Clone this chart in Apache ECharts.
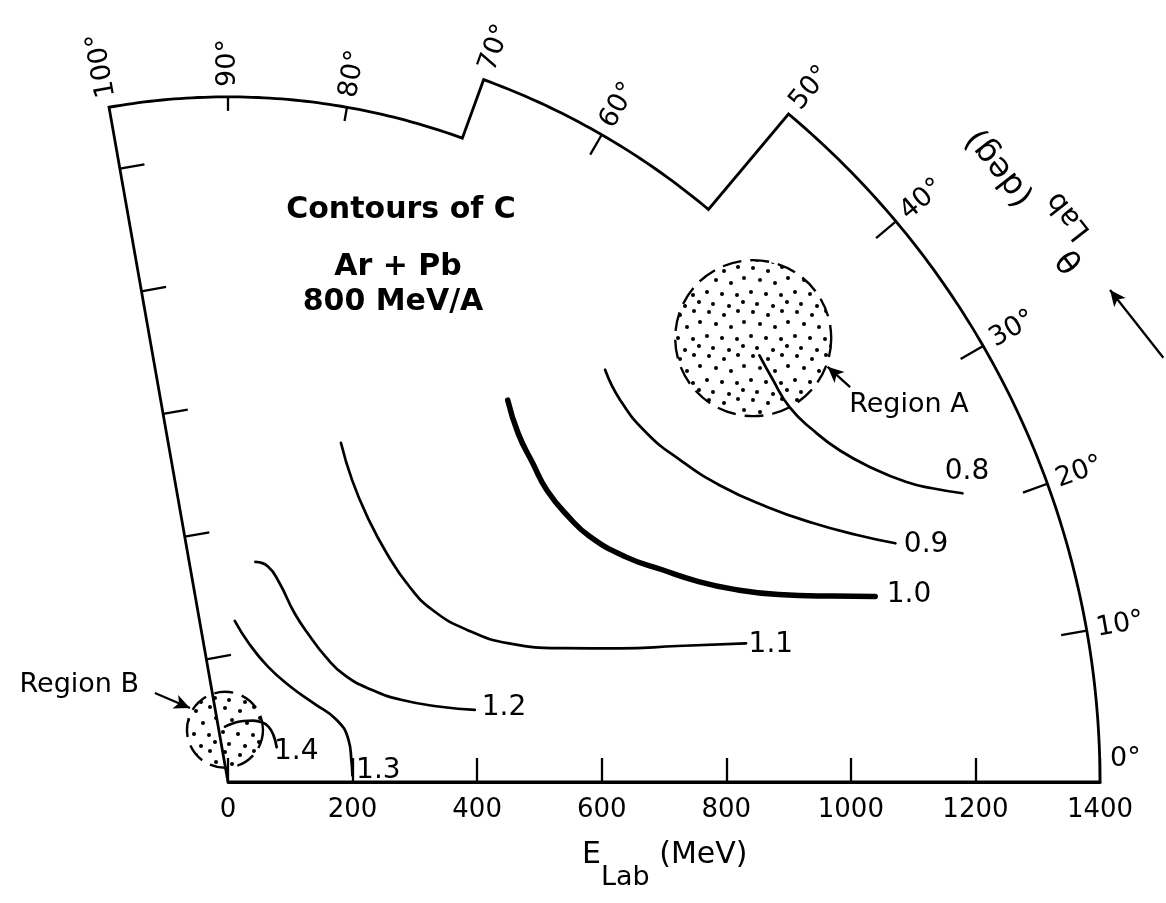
<!DOCTYPE html>
<html>
<head>
<meta charset="utf-8">
<script src="https://cdn.jsdelivr.net/npm/echarts@6.0.0/dist/echarts.min.js"></script>
<style>
html,body{margin:0;padding:0;background:#ffffff;}
#chart{width:1166px;height:903px;}
</style>
</head>
<body>
<div id="chart"></div>
<script>
// ===== data: E_lab (MeV) and theta_lab (deg) =====
const E_TICKS = [0, 200, 400, 600, 800, 1000, 1200, 1400];
const ANGLE_TICKS = [0, 10, 20, 30, 40, 50, 60, 70, 80, 90, 100];
const LEFT_TICKS = [200, 400, 600, 800, 1000];
// measured boundary: [theta from, theta to, E max]
const FRAME_ARCS = [[100, 70, 1100], [70, 50, 1200], [50, 0, 1400]];

// contour lines of C, points [E, theta]
const C08 = [[1094,38.75],[1088,36.7],[1084,33.72],[1096,31.03],[1117,28.48],[1151,25.96],[1191,23.85],[1225,22.64],[1267,21.46]];
const C09 = [[897,47.55],[879,44.26],[875,39.82],[891,35.48],[922,31.12],[971,27.08],[1027,23.88],[1085,21.44],[1138,19.68]];
const C10 = [[760,53.78],[728,50.2],[708,46.28],[694,42.46],[693,37.94],[702,34.16],[733,29.58],[775,26.12],[819,23.2],[868,20.9],[934,18.8],[1015,17.1],[1081,16.0]];
const C11 = [[574,71.59],[524,67.65],[481,62.27],[447,55.25],[428,47.09],[429,40.06],[455,32.46],[503,26.27],[579,21.78],[665,18.82],[754,16.83],[861,14.98]];
const C12 = [[356,82.9],[352,79.5],[330,75.5],[291,68.4],[268,60.5],[255,52.1],[254,42.5],[274,32.7],[309,25.2],[362,19.5],[413,16.3]];
const C13 = [[259,87.6],[225,81.4],[196,70.9],[183,56.5],[187,42.5],[201,29.7],[205,19.3],[201,9.5],[200,3.0]];
const C14 = [[89,93.1],[94.6,84.8],[101,75.9],[106.5,67.6],[110,60.6],[110,53.9],[105,46.1],[96,35.5]];
const CONTOUR_NAMES = ['0.8', '0.9', '1.0', '1.1', '1.2', '1.3', '1.4'];
const CONTOUR_LABEL_POS = [[1287,22.8],[1184,18.8],[1134,15.4],[899,14.2],[459,15.1],[242,4.2],[120,24.0]];

const REGION_CENTERS = [[1104, 40.2], [84, 93.3]];
const REGION_NAMES = ['Region A', 'Region B'];
const REGION_LABEL_POS = [[1250, 29.0], [285, 146.9]];
const REGION_ARROWS = [[[1183, 32.4], [1171, 34.7]], [[185, 129.4], [133.5, 117.2]]];
const THETA_ARROW = [[1649, 24.4], [1621.5, 29.15]];

// ===== style =====
const FONT = "'DejaVu Sans','Liberation Sans',sans-serif";
const PX_PER_MEV = 872 / 1400;
const ORIGIN = [228, 782];
const R_MAX = 2000;
const LABEL_GAP_E = 16;
const REGION_RADII_PX = [78, 38];
const DOTS = [[5,4],[20,7],[34,3],[12,16],[27,19],[40,14],[3,28],[18,30],[33,31],[9,40],[25,42],[39,38]];

function dotPattern() {
  const c = document.createElement('canvas');
  c.width = 44; c.height = 44;
  const g = c.getContext('2d');
  g.fillStyle = '#000';
  DOTS.forEach(([x, y]) => { g.beginPath(); g.arc(x, y, 2.0, 0, Math.PI * 2); g.fill(); });
  return c;
}
function rimE(t) { let e = 0; FRAME_ARCS.forEach(([a0, a1, v]) => { if (t <= a0 && t >= a1) e = Math.max(e, v); }); return e; }
function isCorner(t) { return FRAME_ARCS.some(([a0, a1]) => t === a0 || t === a1); }
function framePath() {
  const pts = [[0, 0], [FRAME_ARCS[0][2], FRAME_ARCS[0][0]]];
  FRAME_ARCS.forEach(([a0, a1, e]) => { for (let a = a0; a >= a1 - 1e-9; a -= 0.5) pts.push([e, a]); });
  pts.push([0, 0]);
  return pts;
}
function tickLen(r) { return r >= 1400 ? 26 : (r >= 1200 ? 23 : 14); }

const chart = echarts.init(document.getElementById('chart'), null, { renderer: 'canvas' });
const pattern = { image: dotPattern(), repeat: 'repeat' };
const CONTOURS = [C08, C09, C10, C11, C12, C13, C14];

const tickData = ANGLE_TICKS.filter(t => !isCorner(t)).map(t => [rimE(t), t, 0])
  .concat(LEFT_TICKS.map(e => [e, 100, 1]));

const labelSeries = (data, extra) => Object.assign({
  type: 'scatter', coordinateSystem: 'polar', silent: true, symbolSize: 1, z: 5,
  itemStyle: { color: 'rgba(0,0,0,0)', opacity: 1 }, data: data
}, extra);

const series = [];
series.push({
  type: 'line', coordinateSystem: 'polar', data: framePath(), symbol: 'none', clip: false, silent: true,
  lineStyle: { color: '#000', width: 2.8, join: 'miter' }, z: 2,
  markLine: {
    silent: true, symbol: ['none', 'arrow'], symbolSize: [11, 16], precision: 3,
    label: { show: false }, lineStyle: { color: '#000', width: 2.3, type: 'solid', opacity: 1 },
    emphasis: { disabled: true },
    data: REGION_ARROWS.concat([THETA_ARROW]).map(a => [{ coord: a[0] }, { coord: a[1] }])
  }
});
series.push({
  type: 'custom', coordinateSystem: 'polar', data: tickData, silent: true, z: 2,
  renderItem(params, api) {
    const r = api.value(0), a = api.value(1), kind = api.value(2);
    const p = api.coord([r, a]);
    const cx = params.coordSys.cx, cy = params.coordSys.cy;
    let dx = p[0] - cx, dy = p[1] - cy;
    const n = Math.hypot(dx, dy); dx /= n; dy /= n;
    let q;
    if (kind === 0) { const L = tickLen(r); q = [p[0] - dx * L, p[1] - dy * L]; }
    else { const L = 25; q = [p[0] - dy * L, p[1] + dx * L]; }
    return { type: 'line', shape: { x1: p[0], y1: p[1], x2: q[0], y2: q[1] }, style: { stroke: '#000', lineWidth: 2.3 } };
  }
});
CONTOURS.forEach((d, i) => {
  series.push({
    type: 'line', coordinateSystem: 'polar', data: d, smooth: 0.5, symbol: 'none', clip: false, silent: true,
    lineStyle: { color: '#000', width: i === 2 ? 5.5 : 2.7, cap: 'round', opacity: 1 }, z: 3
  });
});
// region circles (dotted, dashed outline)
series.push({
  type: 'custom', coordinateSystem: 'polar', silent: true, z: 4,
  data: REGION_CENTERS,
  renderItem(params, api) {
    const p = api.coord([api.value(0), api.value(1)]);
    return { type: 'circle', shape: { cx: p[0], cy: p[1], r: REGION_RADII_PX[params.dataIndex] },
      style: { fill: pattern, stroke: '#000', lineWidth: 2.4, lineDash: [19, 9] } };
  }
});
// angle labels
series.push(labelSeries(
  ANGLE_TICKS.map(t => ({ value: [rimE(t) + LABEL_GAP_E, t], label: { rotate: t, offset: t === 0 ? [0, -23] : [0, 0] } })),
  { label: { show: true, position: 'inside', align: 'left', verticalAlign: 'middle', color: '#000', fontFamily: FONT, fontSize: 27,
    formatter: p => p.value[1] + '°' } }));
// contour labels
series.push(labelSeries(
  CONTOUR_LABEL_POS.map((v, i) => ({ value: v, name: CONTOUR_NAMES[i] })),
  { label: { show: true, position: 'inside', align: 'center', verticalAlign: 'middle', color: '#000', fontFamily: FONT, fontSize: 28,
    formatter: p => p.name } }));
// region labels
series.push(labelSeries(
  REGION_LABEL_POS.map((v, i) => ({ value: v, name: REGION_NAMES[i] })),
  { label: { show: true, position: 'inside', align: 'center', verticalAlign: 'middle', color: '#000', fontFamily: FONT, fontSize: 27,
    formatter: p => p.name } }));
// cartesian axis for the E_lab scale along theta = 0
series.push({ type: 'line', xAxisIndex: 0, yAxisIndex: 0, data: [], silent: true });

const option = {
  animation: false,
  backgroundColor: '#ffffff',
  polar: { center: ORIGIN, radius: R_MAX * PX_PER_MEV },
  angleAxis: { type: 'value', min: 0, max: 360, startAngle: 0, clockwise: false, show: false },
  radiusAxis: { type: 'value', min: 0, max: R_MAX, show: false },
  grid: { left: ORIGIN[0], top: 100, width: 1400 * PX_PER_MEV, height: ORIGIN[1] - 100 },
  xAxis: {
    type: 'value', min: 0, max: 1400, interval: 200,
    axisLine: { show: true, lineStyle: { color: '#000', width: 2.8 } },
    axisTick: { show: true, inside: true, length: 24, lineStyle: { color: '#000', width: 2.3 } },
    axisLabel: { show: true, margin: 15, color: '#000', fontFamily: FONT, fontSize: 26, customValues: E_TICKS,
      formatter: v => String(v) },
    splitLine: { show: false }
  },
  yAxis: { type: 'value', min: 0, max: 1, show: false },
  graphic: [
    { type: 'text', x: 401, y: 210, silent: true,
      style: { text: 'Contours of C', fill: '#000', font: 'bold 30px ' + FONT, align: 'center', verticalAlign: 'middle' } },
    { type: 'text', x: 398, y: 267, silent: true,
      style: { text: 'Ar + Pb', fill: '#000', font: 'bold 30px ' + FONT, align: 'center', verticalAlign: 'middle' } },
    { type: 'text', x: 393, y: 302, silent: true,
      style: { text: '800 MeV/A', fill: '#000', font: 'bold 30px ' + FONT, align: 'center', verticalAlign: 'middle' } },
    { type: 'text', x: 665, y: 866, silent: true,
      style: { text: '{a|E}{b|Lab}{a| (MeV)}{z| }', align: 'center', verticalAlign: 'middle',
        rich: {
          a: { fontFamily: FONT, fontSize: 30, lineHeight: 32, verticalAlign: 'top', fill: '#000' },
          b: { fontFamily: FONT, fontSize: 27, lineHeight: 28, verticalAlign: 'bottom', fill: '#000' },
          z: { fontSize: 2, lineHeight: 51 }
        } } },
    { type: 'text', x: 1034, y: 193, rotation: 128 * Math.PI / 180, silent: true,
      style: { text: '{a|θ}{b|Lab}{a| (deg)}{z| }', align: 'center', verticalAlign: 'middle',
        rich: {
          a: { fontFamily: FONT, fontSize: 33, lineHeight: 36, verticalAlign: 'top', fill: '#000' },
          b: { fontFamily: FONT, fontSize: 29, lineHeight: 30, verticalAlign: 'bottom', fill: '#000' },
          z: { fontSize: 2, lineHeight: 56 }
        } } }
  ],
  series: series
};
chart.setOption(option);
</script>
</body>
</html>
